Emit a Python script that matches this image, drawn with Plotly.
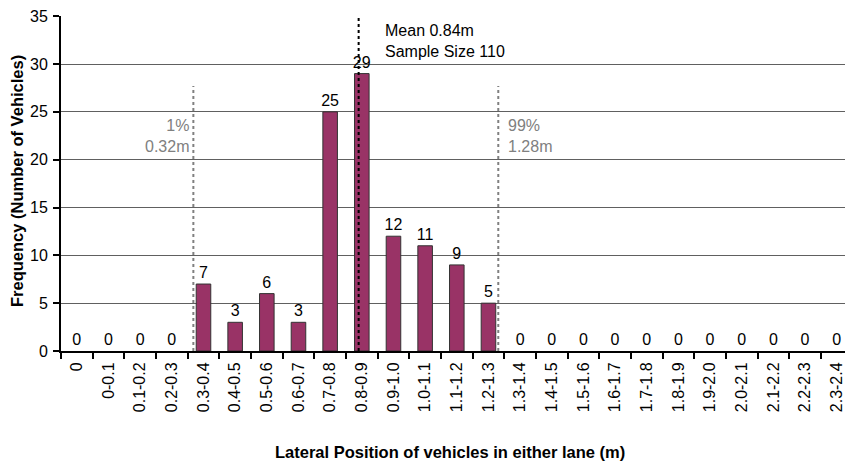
import plotly.graph_objects as go

categories = ["0", "0-0.1", "0.1-0.2", "0.2-0.3", "0.3-0.4", "0.4-0.5", "0.5-0.6", "0.6-0.7",
              "0.7-0.8", "0.8-0.9", "0.9-1.0", "1.0-1.1", "1.1-1.2", "1.2-1.3", "1.3-1.4",
              "1.4-1.5", "1.5-1.6", "1.6-1.7", "1.7-1.8", "1.8-1.9", "1.9-2.0", "2.0-2.1",
              "2.1-2.2", "2.2-2.3", "2.3-2.4"]
frequency = [0, 0, 0, 0, 7, 3, 6, 3, 25, 29, 12, 11, 9, 5, 0, 0, 0, 0, 0, 0, 0, 0, 0, 0, 0]
y_ticks = [0, 5, 10, 15, 20, 25, 30, 35]

# reference line positions in category-index units
p1_pos = 3.68
mean_pos = 8.9
p99_pos = 13.31

FONT = "Liberation Sans, Arial, sans-serif"
W, H = 845, 461
L, R, T, B = 61, 0, 16, 110
PW, PH = W - L - R, H - T - B

fig = go.Figure()
fig.add_trace(go.Bar(
    x=categories, y=frequency,
    marker=dict(color="#993366",
                line=dict(color="#333333", width=[1 if v > 0 else 0 for v in frequency])),
    text=[str(v) for v in frequency], textposition="outside", constraintext="none",
    textfont=dict(size=16, color="black", family=FONT),
    cliponaxis=False, width=0.46,
))

fig.update_layout(
    width=W, height=H,
    margin=dict(l=L, r=R, t=T, b=B, autoexpand=False),
    paper_bgcolor="white", plot_bgcolor="white",
    font=dict(family=FONT, size=16, color="black"),
    showlegend=False,
)
fig.update_xaxes(
    type="category", range=[-0.5, 24.26], automargin=False,
    tickson="boundaries", ticks="outside", ticklen=6, tickwidth=2, tickcolor="black",
    tickangle=-90, showgrid=False, ticklabelstandoff=3,
    showline=True, linecolor="black", linewidth=2,
    tickfont=dict(size=16), zeroline=False,
)
fig.update_yaxes(
    range=[0, 35.02], tickvals=y_ticks, automargin=False,
    ticks="outside", ticklen=6, tickwidth=2, tickcolor="black", ticklabelstandoff=2,
    showline=True, linecolor="black", linewidth=2,
    showgrid=True, gridcolor="#606060", gridwidth=1, zeroline=False,
    tickfont=dict(size=16),
)

# reference lines
fig.add_shape(type="line", xref="x", yref="y", x0=p1_pos, x1=p1_pos, y0=0, y1=27.7,
              line=dict(color="#808080", width=2, dash="dot"))
fig.add_shape(type="line", xref="x", yref="y", x0=p99_pos, x1=p99_pos, y0=0, y1=27.7,
              line=dict(color="#808080", width=2, dash="dot"))
fig.add_shape(type="line", xref="x", yref="y", x0=mean_pos, x1=mean_pos, y0=0, y1=34.8,
              line=dict(color="black", width=2, dash="dot"))

def px_x(px):
    return (px - L) / PW

def px_y(py):
    return (H - B - py) / PH

fig.add_annotation(x=px_x(191), y=px_y(136), xref="paper", yref="paper",
                   xanchor="right", yanchor="middle",
                   text="1%<br>0.32m", showarrow=False, align="right",
                   font=dict(size=16, color="#808080"))
fig.add_annotation(x=px_x(506), y=px_y(136), xref="paper", yref="paper",
                   xanchor="left", yanchor="middle",
                   text="99%<br>1.28m", showarrow=False, align="left",
                   font=dict(size=16, color="#808080"))
fig.add_annotation(x=px_x(383), y=px_y(41), xref="paper", yref="paper",
                   xanchor="left", yanchor="middle",
                   text="Mean 0.84m<br>Sample Size 110", showarrow=False, align="left",
                   font=dict(size=16, color="black"))

fig.add_annotation(x=px_x(450), y=px_y(452), xref="paper", yref="paper",
                   xanchor="center", yanchor="middle", showarrow=False,
                   text="<b>Lateral Position of vehicles in either lane (m)</b>",
                   font=dict(size=16.5, color="black"))
fig.add_annotation(x=px_x(17), y=px_y(181), xref="paper", yref="paper",
                   xanchor="center", yanchor="middle", showarrow=False, textangle=-90,
                   text="<b>Frequency (Number of Vehicles)</b>",
                   font=dict(size=16.5, color="black"))

fig.write_html("out.html",
               config={"displayModeBar": False},
               post_script="document.body.style.margin='0';document.body.style.overflow='hidden';")
